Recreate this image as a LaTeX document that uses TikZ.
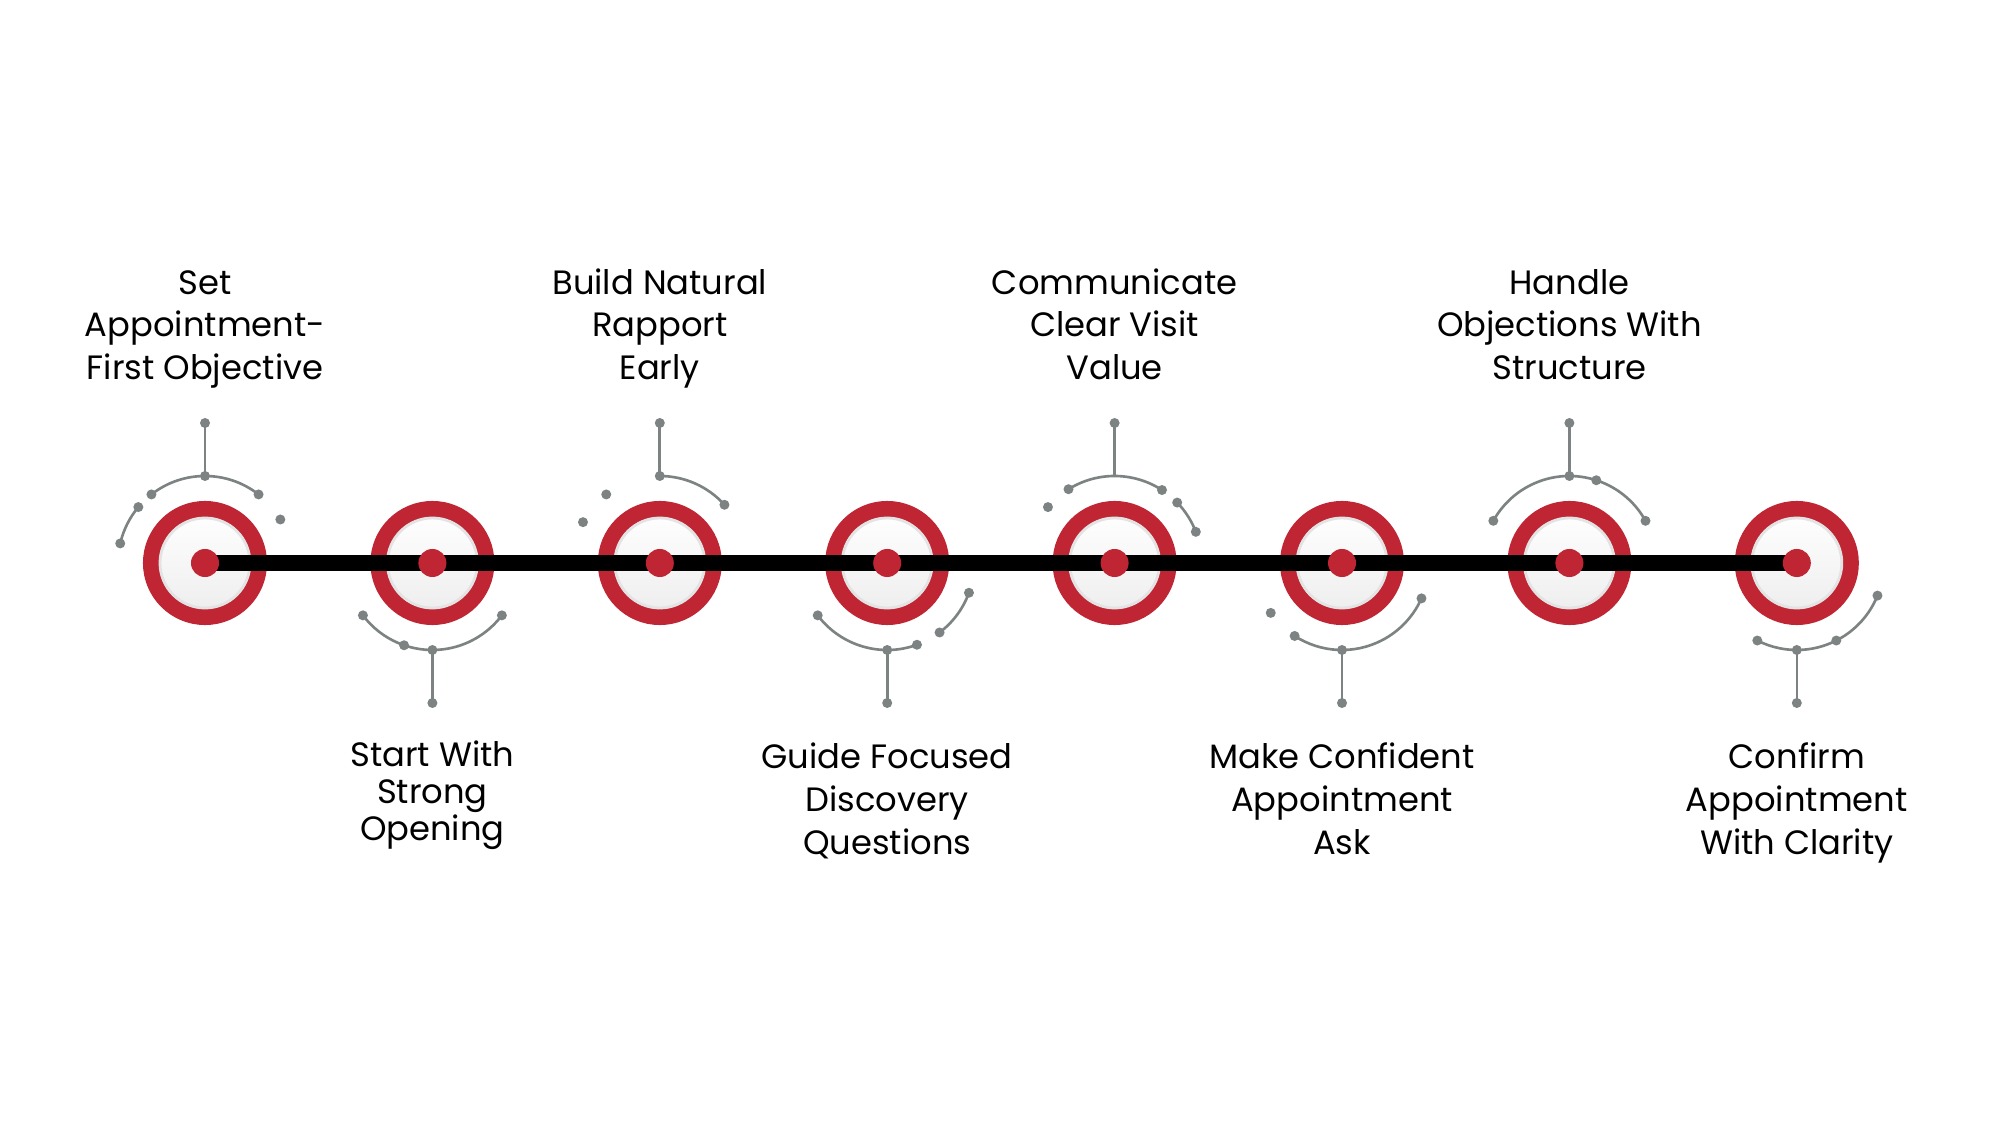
\documentclass[tikz,border=0pt]{standalone}
\usepackage{fontspec}
\setmainfont{Poppins}
\definecolor{ringred}{RGB}{192,37,51}
\definecolor{dotgray}{RGB}{125,131,131}

\begin{document}
\begin{tikzpicture}[x=0.01cm, y=0.01cm,
    ring/.style={circle, draw=ringred, line width=0.16cm, minimum size=1.08cm, inner sep=0pt, top color=white, bottom color=gray!14},
    hub/.style={circle, fill=ringred, minimum size=0.28cm, inner sep=0pt},
    deco/.style={draw=dotgray, line width=0.75pt},
    bead/.style={fill=dotgray},
    caption/.style={align=center, font=\fontsize{9.6}{12.2}\selectfont, text=black}
  ]
  \fill[white] (0,0) rectangle (2000,-1125);
  \useasboundingbox (0,0) rectangle (2000,-1125);

  % milestones on the timeline
  \foreach \i in {1,...,8}
    \node[ring] (m\i) at ({205+227.4*(\i-1)},-563) {};
  \foreach \i in {1,...,8}
    \draw[gray!22, line width=0.8pt] (m\i.center) circle[radius=45];
  \draw[black, line width=0.16cm] (m1.center) -- (m8.center);
  \foreach \i in {1,...,8}
    \node[hub] (h\i) at (m\i.center) {};

  % stems
  \foreach \i/\a in {1/90,2/270,3/90,4/270,5/90,6/270,7/90,8/270} {
    \draw[deco] ([shift={(\a:87)}]m\i.center) -- ([shift={(\a:140)}]m\i.center);
    \fill[bead] ([shift={(\a:140)}]m\i.center) circle[radius=5];
  }

  % arcs and beads
  \draw[deco] ([shift={(52:87)}]m1.center) arc[start angle=52, end angle=128, radius=87];
  \draw[deco] ([shift={(140:87)}]m1.center) arc[start angle=140, end angle=167, radius=87];
  \foreach \a in {30,52,90,128,140,167} \fill[bead] ([shift={(\a:87)}]m1.center) circle[radius=5];

  \draw[deco] ([shift={(217:87)}]m2.center) arc[start angle=217, end angle=323, radius=87];
  \foreach \a in {217,251,270,323} \fill[bead] ([shift={(\a:87)}]m2.center) circle[radius=5];

  \draw[deco] ([shift={(42:87)}]m3.center) arc[start angle=42, end angle=90, radius=87];
  \foreach \a in {42,90,128,152} \fill[bead] ([shift={(\a:87)}]m3.center) circle[radius=5];

  \draw[deco] ([shift={(217:87)}]m4.center) arc[start angle=217, end angle=290, radius=87];
  \draw[deco] ([shift={(307:87)}]m4.center) arc[start angle=307, end angle=340, radius=87];
  \foreach \a in {217,270,290,307,340} \fill[bead] ([shift={(\a:87)}]m4.center) circle[radius=5];

  \draw[deco] ([shift={(57:87)}]m5.center) arc[start angle=57, end angle=122, radius=87];
  \draw[deco] ([shift={(21:87)}]m5.center) arc[start angle=21, end angle=44, radius=87];
  \foreach \a in {21,44,57,122,140} \fill[bead] ([shift={(\a:87)}]m5.center) circle[radius=5];

  \draw[deco] ([shift={(237:87)}]m6.center) arc[start angle=237, end angle=336, radius=87];
  \foreach \a in {215,237,270,336} \fill[bead] ([shift={(\a:87)}]m6.center) circle[radius=5];

  \draw[deco] ([shift={(29:87)}]m7.center) arc[start angle=29, end angle=151, radius=87];
  \foreach \a in {29,72,90,151} \fill[bead] ([shift={(\a:87)}]m7.center) circle[radius=5];

  \draw[deco] ([shift={(243:87)}]m8.center) arc[start angle=243, end angle=338, radius=87];
  \foreach \a in {243,270,297,338} \fill[bead] ([shift={(\a:87)}]m8.center) circle[radius=5];

  % captions
  \node[caption] (l1) at ([yshift=2.345cm]m1.center) {\strut Set\\Appointment-\\First Objective\strut};
  \node[caption] (l3) at ([yshift=2.345cm]m3.center) {\strut Build Natural\\Rapport\\Early\strut};
  \node[caption] (l5) at ([yshift=2.345cm]m5.center) {\strut Communicate\\Clear Visit\\Value\strut};
  \node[caption] (l7) at ([yshift=2.345cm]m7.center) {\strut Handle\\Objections With\\Structure\strut};
  \node[caption, font=\fontsize{9.6}{10.5}\selectfont] (l2) at ([yshift=-2.33cm]m2.center) {\strut Start With\\Strong\\Opening\strut};
  \node[caption] (l4) at ([yshift=-2.40cm]m4.center) {\strut Guide Focused\\Discovery\\Questions\strut};
  \node[caption] (l6) at ([yshift=-2.40cm]m6.center) {\strut Make Confident\\Appointment\\Ask\strut};
  \node[caption] (l8) at ([yshift=-2.40cm]m8.center) {\strut Confirm\\Appointment\\With Clarity\strut};
\end{tikzpicture}
\end{document}
